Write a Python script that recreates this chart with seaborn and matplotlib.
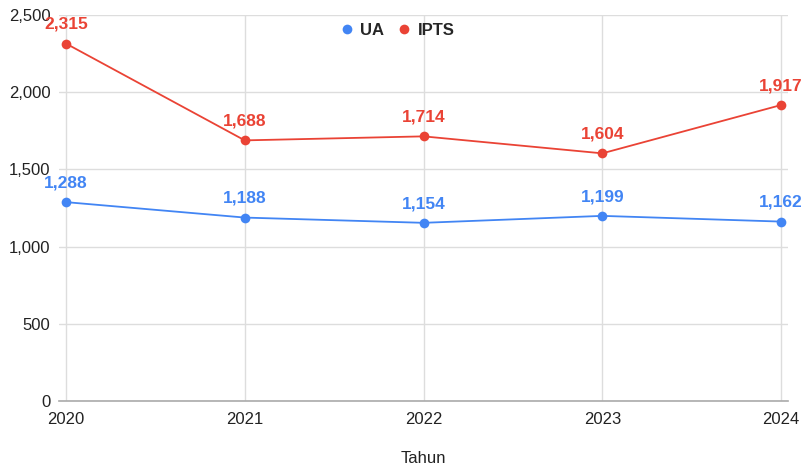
import numpy as np
import pandas as pd
import seaborn as sns
import matplotlib.pyplot as plt
from matplotlib.ticker import FuncFormatter
from matplotlib.lines import Line2D

years = [2020, 2021, 2022, 2023, 2024]
ua = [1288, 1188, 1154, 1199, 1162]
ipts = [2315, 1688, 1714, 1604, 1917]
series_names = ["UA", "IPTS"]
colors = {"UA": "#4285F4", "IPTS": "#EA4335"}

df = pd.DataFrame({
    "Tahun": years * 2,
    "value": ua + ipts,
    "series": ["UA"] * len(years) + ["IPTS"] * len(years),
})

sns.set_style("white")
plt.rcParams["font.family"] = ["Liberation Sans", "DejaVu Sans"]

fig = plt.figure(figsize=(8.06, 4.69), dpi=100)
ax = fig.add_axes([0.073, 0.145, 0.905, 0.823])

sns.lineplot(data=df, x="Tahun", y="value", hue="series", palette=colors,
             hue_order=series_names, marker="o", markersize=7,
             markeredgewidth=0, linewidth=1.3, ax=ax, legend=False)

for name in series_names:
    sub = df[df["series"] == name]
    for x, y in zip(sub["Tahun"], sub["value"]):
        ax.annotate(f"{y:,}", (x, y), xytext=(0, 8.5), textcoords="offset points",
                    ha="center", va="bottom", fontsize=12.5, fontweight="bold",
                    color=colors[name])

ax.set_xlim(2019.96, 2024.04)
ax.set_ylim(0, 2500)
ax.set_xticks(years)
ax.set_yticks(np.arange(0, 2501, 500))
ax.yaxis.set_major_formatter(FuncFormatter(lambda v, p: f"{int(v):,}"))
ax.tick_params(axis="both", length=0, labelsize=12, colors="#222222")
ax.tick_params(axis="y", pad=6)
ax.tick_params(axis="x", pad=8)

ax.grid(True, color="#dddddd", linewidth=1)
ax.set_axisbelow(True)
for s in ["top", "right", "left"]:
    ax.spines[s].set_visible(False)
ax.spines["bottom"].set_color("#aaaaaa")
ax.spines["bottom"].set_linewidth(1.2)

ax.set_xlabel("Tahun", fontsize=12, color="#222222", labelpad=17)
ax.set_ylabel("")

handles = [Line2D([], [], marker="o", linestyle="", markersize=7,
                  markerfacecolor=colors[n], markeredgewidth=0) for n in series_names]
leg = ax.legend(handles, series_names, loc="center", bbox_to_anchor=(0.465, 0.96),
                ncol=2, frameon=False, handlelength=0.6, handletextpad=0.5,
                columnspacing=0.9, prop={"weight": "bold", "size": 12})

fig.savefig("out.png", dpi=100)
